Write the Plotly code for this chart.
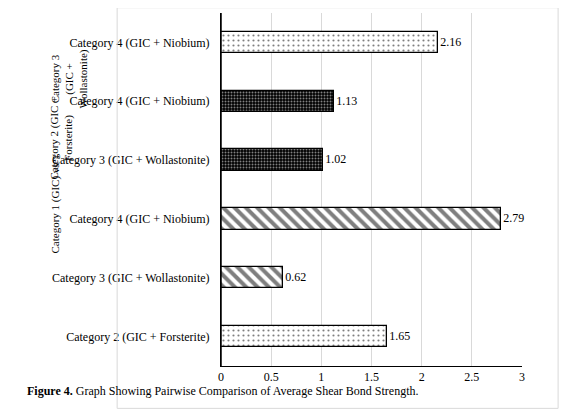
import plotly.graph_objects as go

labels = ["Category 2 (GIC + Forsterite)", "Category 3 (GIC + Wollastonite)", "Category 4 (GIC + Niobium)",
          "Category 3 (GIC + Wollastonite)", "Category 4 (GIC + Niobium)", "Category 4 (GIC + Niobium)"]
values = [1.65, 0.62, 2.79, 1.02, 1.13, 2.16]
groups = ["Category 1 (GIC) vs", "Category 2 (GIC +<br>Forsterite)", "Category 3<br>(GIC +<br>Wollastonite)"]
ticks = [0, 0.5, 1, 1.5, 2, 2.5, 3]

pos = list(range(len(values)))
font = "Liberation Serif, Times New Roman, DejaVu Serif, serif"
styles = [
    dict(shape=".", bgcolor="white", fgcolor="black", size=5, solidity=0.15),
    dict(shape="\\", bgcolor="white", fgcolor="black", size=8, solidity=0.5),
    dict(shape="\\", bgcolor="white", fgcolor="black", size=8, solidity=0.5),
    dict(shape=".", bgcolor="black", fgcolor="white", size=3, solidity=0.35),
    dict(shape=".", bgcolor="black", fgcolor="white", size=3, solidity=0.35),
    dict(shape=".", bgcolor="white", fgcolor="black", size=5, solidity=0.15),
]
fig = go.Figure()
for i in pos:
    fig.add_trace(go.Bar(x=[values[i]], y=[pos[i]], orientation="h", width=0.36,
                         marker=dict(color="white", line=dict(color="black", width=1.3), pattern=styles[i]),
                         text=[f"{values[i]:.2f}"], textposition="outside", cliponaxis=False,
                         textfont=dict(family=font, size=12, color="black"), showlegend=False))
fig.update_layout(
    width=570, height=411, margin=dict(l=213, r=56, t=5, b=53),
    paper_bgcolor="white", plot_bgcolor="white", font=dict(family=font, size=12, color="black"),
    xaxis=dict(range=[0, 3], tickvals=ticks, showgrid=True, gridcolor="#d9d9d9", zeroline=False,
               showline=True, linecolor="black", ticks="", tickfont=dict(size=12)),
    yaxis=dict(range=[-0.5, 5.5], tickvals=pos, ticktext=labels, showgrid=False, zeroline=False,
               showline=True, linecolor="black", ticks="", ticklabelstandoff=8),
    bargap=0,
)
fig.add_shape(type="line", xref="x", yref="paper", x0=0, x1=0, y0=0, y1=1, line=dict(color="black", width=1.5))
fig.add_shape(type="rect", xref="paper", yref="paper", x0=-0.345, x1=1.12, y0=-0.12, y1=1.015,
              line=dict(color="#d9d9d9", width=1))
gyy = [248, 130, 40]
for g, yy in zip(groups, gyy):
    fig.add_annotation(text=g, textangle=-90, xref="paper", yref="paper", x=(38 - 213) / 301,
                       y=1 - (yy - 5) / 353, showarrow=False, font=dict(size=11), align="center")
fig.add_annotation(text="<b>Figure 4.</b> Graph Showing Pairwise Comparison of Average Shear Bond Strength.",
                   xref="paper", yref="paper", x=(17 - 213) / 301, y=1 - (392 - 5) / 353, xanchor="left",
                   showarrow=False, font=dict(size=12))
fig.write_html("out.html")
